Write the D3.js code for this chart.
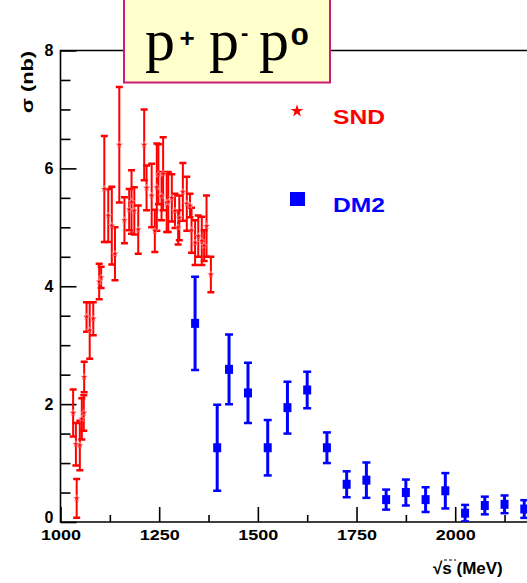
<!DOCTYPE html>
<html>
<head>
<meta charset="utf-8">
<script src="https://cdn.jsdelivr.net/npm/d3@7"></script>
<style>
  html, body { margin: 0; padding: 0; background: #fff; overflow: hidden; }
  svg { display: block; }
  .tick text { font-family: "Liberation Sans", Arial, sans-serif; font-weight: bold; }
</style>
</head>
<body>
<svg id="chart" width="527" height="583"></svg>
<script>
// ---- data ----
const sndEnergy = [1032, 1039, 1041, 1049, 1054, 1059, 1060, 1066, 1074, 1083,
                   1098, 1103, 1111, 1121, 1130, 1138, 1149, 1162, 1174, 1180,
                   1187, 1197, 1212, 1218, 1231, 1239, 1244, 1248, 1256, 1260,
                   1269, 1273, 1282, 1290, 1298, 1301, 1310, 1320, 1328, 1332,
                   1341, 1349, 1358, 1364, 1370, 1381];
const sndSigma  = [1.85, 1.32, 0.40, 1.30, 1.75, 1.85, 2.46, 3.48, 3.25, 3.45,
                   4.08, 4.15, 5.65, 5.20, 5.03, 4.55, 6.40, 5.12, 5.30, 5.43,
                   5.28, 4.96, 6.40, 5.67, 5.54, 4.94, 5.68, 5.90, 5.53, 5.91,
                   5.42, 5.43, 5.50, 5.28, 5.00, 5.16, 5.60, 5.40, 5.37, 4.95,
                   4.74, 4.85, 4.77, 4.69, 5.02, 4.20];
const sndError  = [0.40, 0.36, 0.33, 0.42, 0.35, 0.30, 0.26, 0.25, 0.48, 0.28,
                   0.30, 0.18, 0.90, 0.45, 0.66, 0.45, 0.98, 0.39, 0.35, 0.54,
                   0.40, 0.41, 0.60, 0.38, 0.54, 0.36, 0.74, 0.51, 0.41, 0.62,
                   0.50, 0.51, 0.40, 0.29, 0.29, 0.38, 0.49, 0.46, 0.20, 0.38,
                   0.38, 0.35, 0.41, 0.26, 0.52, 0.30];

const dm2Energy = [1341, 1397, 1427, 1475, 1525, 1575, 1625, 1675, 1725, 1775,
                   1825, 1875, 1925, 1975, 2025, 2075, 2125, 2175];
const dm2Sigma  = [3.37, 1.26, 2.59, 2.19, 1.26, 1.94, 2.24, 1.26, 0.64, 0.71,
                   0.38, 0.50, 0.38, 0.53, 0.15, 0.28, 0.30, 0.22];
const dm2Error  = [0.79, 0.73, 0.59, 0.51, 0.47, 0.44, 0.31, 0.26, 0.22, 0.30,
                   0.17, 0.22, 0.21, 0.30, 0.14, 0.15, 0.15, 0.15];

const xMajorTicks = [1000, 1250, 1500, 1750, 2000];
const xMinorTicks = [1125, 1375, 1625, 1875, 2125];
const yMajorTicks = [0, 2, 4, 6, 8];
const yMinorTicks = [0.5, 1, 1.5, 2.5, 3, 3.5, 4.5, 5, 5.5, 6.5, 7, 7.5];

const legendLabels = ["SND", "DM2"];
const yTitle = "σ (nb)";
const xTitle = "√s (MeV)";

// ---- layout ----
const svg = d3.select("#chart");
const plotLeft = 60.5, plotTop = 50.5, plotBottom = 522;
const x = d3.scaleLinear().domain([1000, 2250]).range([plotLeft, plotLeft + 1250 * 0.3947]);
const y = d3.scaleLinear().domain([0, 8]).range([plotBottom, plotTop]);
const fontSans = '"Liberation Sans", Arial, sans-serif';

svg.append("defs").append("clipPath").attr("id", "plotclip")
  .append("rect").attr("x", plotLeft).attr("y", plotTop).attr("width", 600).attr("height", plotBottom - plotTop);

// axes
const xAxisMajor = d3.axisBottom(x).tickValues(xMajorTicks).tickSize(-15).tickPadding(7.5)
  .tickFormat(d3.format("d"));
const gx = svg.append("g").attr("transform", `translate(0,${plotBottom})`).call(xAxisMajor);
gx.select(".domain").remove();
gx.selectAll("line").attr("stroke", "#000").attr("stroke-width", 1.6);
gx.selectAll("text").attr("font-size", 15).attr("fill", "#000")
  .attr("textLength", 40).attr("lengthAdjust", "spacingAndGlyphs");

const xAxisMinor = d3.axisBottom(x).tickValues(xMinorTicks).tickSize(-7).tickFormat("");
const gx2 = svg.append("g").attr("transform", `translate(0,${plotBottom})`).call(xAxisMinor);
gx2.select(".domain").remove();
gx2.selectAll("line").attr("stroke", "#000").attr("stroke-width", 1.6);

const yAxisMajor = d3.axisLeft(y).tickValues(yMajorTicks).tickSize(-16).tickPadding(7)
  .tickFormat(d3.format("d"));
const gy = svg.append("g").attr("transform", `translate(${plotLeft},0)`).call(yAxisMajor);
gy.select(".domain").remove();
gy.selectAll("line").attr("stroke", "#000").attr("stroke-width", 1.6);
gy.selectAll("text").attr("font-size", 16).attr("fill", "#000")
  .attr("dy", d => d === 0 ? "0.05em" : "0.32em");

const yAxisMinor = d3.axisLeft(y).tickValues(yMinorTicks).tickSize(-10).tickFormat("");
const gy2 = svg.append("g").attr("transform", `translate(${plotLeft},0)`).call(yAxisMinor);
gy2.select(".domain").remove();
gy2.selectAll("line").attr("stroke", "#000").attr("stroke-width", 1.6);

// frame
svg.append("path")
  .attr("d", `M${x.range()[1]},${plotTop}H${plotLeft}V${plotBottom}H${x.range()[1]}`)
  .attr("fill", "none").attr("stroke", "#000").attr("stroke-width", 1.6);

// data layer
const plot = svg.append("g").attr("clip-path", "url(#plotclip)");

function errorBars(g, ex, ey, ee, color, lw, capW) {
  const idx = d3.range(ex.length);
  const gg = g.append("g").attr("stroke", color).attr("stroke-width", lw);
  gg.selectAll("line.v").data(idx).join("line").attr("class", "v")
    .attr("x1", i => x(ex[i])).attr("x2", i => x(ex[i]))
    .attr("y1", i => y(ey[i] + ee[i])).attr("y2", i => y(ey[i] - ee[i]));
  gg.selectAll("line.t").data(idx).join("line").attr("class", "t")
    .attr("x1", i => x(ex[i]) - capW / 2).attr("x2", i => x(ex[i]) + capW / 2)
    .attr("y1", i => y(ey[i] + ee[i])).attr("y2", i => y(ey[i] + ee[i]))
    .attr("stroke-width", 2.5);
  gg.selectAll("line.b").data(idx).join("line").attr("class", "b")
    .attr("x1", i => x(ex[i]) - capW / 2).attr("x2", i => x(ex[i]) + capW / 2)
    .attr("y1", i => y(ey[i] - ee[i])).attr("y2", i => y(ey[i] - ee[i]))
    .attr("stroke-width", 2.5);
}

errorBars(plot, sndEnergy, sndSigma, sndError, "#ff0000", 2, 7);
plot.append("g").selectAll("path").data(d3.range(sndEnergy.length)).join("path")
  .attr("d", d3.symbol().type(d3.symbolStar).size(14))
  .attr("transform", i => `translate(${x(sndEnergy[i])},${y(sndSigma[i])})`)
  .attr("fill", "#ff0000").attr("stroke", "#ffbbbb").attr("stroke-width", 0.5);

errorBars(plot, dm2Energy, dm2Sigma, dm2Error, "#0000ff", 3, 8);
plot.append("g").selectAll("rect").data(d3.range(dm2Energy.length)).join("rect")
  .attr("x", i => x(dm2Energy[i]) - 4).attr("y", i => y(dm2Sigma[i]) - 4.5)
  .attr("width", 8).attr("height", 9).attr("fill", "#0000ff");

// legend
svg.append("path").attr("d", d3.symbol().type(d3.symbolStar).size(50)())
  .attr("transform", "translate(297,111)").attr("fill", "#ff0000");
svg.append("rect").attr("x", 290).attr("y", 192).attr("width", 15).attr("height", 14).attr("fill", "#0000ff");
svg.selectAll("text.leg").data(legendLabels).join("text").attr("class", "leg")
  .attr("x", 333).attr("y", (d, i) => i === 0 ? 124 : 212)
  .attr("font-family", fontSans).attr("font-weight", "bold").attr("font-size", 21)
  .attr("fill", (d, i) => i === 0 ? "#ff0000" : "#0000ff")
  .attr("textLength", 52).attr("lengthAdjust", "spacingAndGlyphs")
  .text(d => d);

// axis titles
svg.append("text").attr("transform", "translate(33,82) rotate(-90)")
  .attr("text-anchor", "middle").attr("font-family", fontSans).attr("font-weight", "bold")
  .attr("font-size", 17).attr("textLength", 62).attr("lengthAdjust", "spacingAndGlyphs")
  .text(yTitle);
svg.append("text").attr("x", 433).attr("y", 574)
  .attr("font-family", fontSans).attr("font-weight", "bold").attr("font-size", 17)
  .text(xTitle);
svg.append("line").attr("x1", 444).attr("x2", 456).attr("y1", 560).attr("y2", 560)
  .attr("stroke", "#000").attr("stroke-width", 1).attr("stroke-dasharray", "3,2");

// title box
svg.append("rect").attr("x", 124).attr("y", -3).attr("width", 206).attr("height", 85.5)
  .attr("fill", "#ffffcc").attr("stroke", "#cc1a77").attr("stroke-width", 2);
const serif = '"Liberation Serif", "Times New Roman", serif';
const tg = svg.append("g");
[[145, "p"], [209, "p"], [259, "p"]].forEach(([px, t]) => {
  tg.append("text").attr("x", px).attr("y", 60).attr("font-family", serif)
    .attr("font-size", 60).attr("fill", "#000").text(t);
});
tg.append("text").attr("x", 179.5).attr("y", 47).attr("font-family", fontSans).attr("font-weight", "bold")
  .attr("font-size", 26).text("+");
tg.append("text").attr("x", 241).attr("y", 40).attr("font-family", fontSans).attr("font-weight", "bold")
  .attr("font-size", 22).text("-");
tg.append("text").attr("x", 290.5).attr("y", 45).attr("font-family", fontSans).attr("font-weight", "bold")
  .attr("font-size", 24).attr("textLength", 18.5).attr("lengthAdjust", "spacingAndGlyphs").text("0");
</script>
</body>
</html>
